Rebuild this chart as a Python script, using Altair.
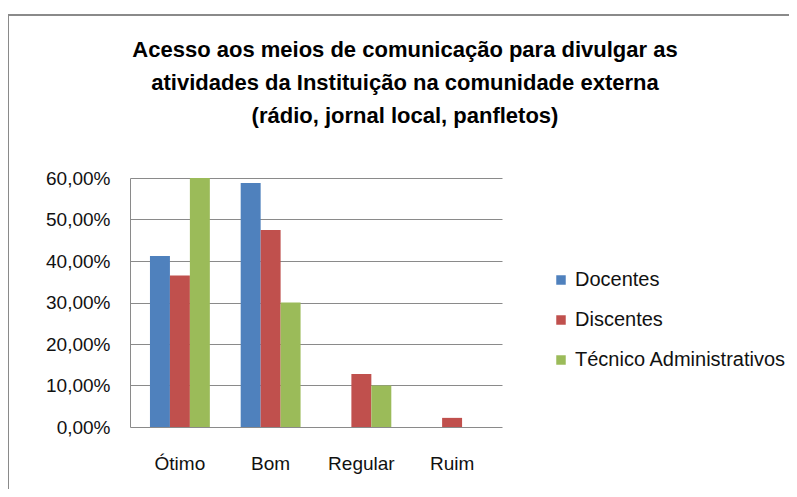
import altair as alt
import pandas as pd

categories = ["Ótimo", "Bom", "Regular", "Ruim"]
series = ["Docentes", "Discentes", "Técnico Administrativos"]
docentes = [0.412, 0.588, 0.0, 0.0]
discentes = [0.365, 0.475, 0.128, 0.022]
tecnicos = [0.600, 0.300, 0.100, 0.0]
colors = ["#4F81BD", "#C0504D", "#9BBB59"]
y_ticks = [0.0, 0.1, 0.2, 0.3, 0.4, 0.5, 0.6]
title_lines = [
    "Acesso aos meios de comunicação para divulgar as",
    "atividades da Instituição na comunidade externa",
    "(rádio, jornal local, panfletos)",
]

rows = []
for s, vals in zip(series, [docentes, discentes, tecnicos]):
    for c, v in zip(categories, vals):
        rows.append({"categoria": c, "grupo": s, "valor": v})
df = pd.DataFrame(rows)
title_df = pd.DataFrame({"t": [title_lines]})

FONT = "Liberation Sans"

bars = alt.Chart(df).mark_bar().encode(
    x=alt.X(
        "categoria:N",
        sort=categories,
        scale=alt.Scale(paddingInner=0.34, paddingOuter=0.22),
        axis=alt.Axis(title=None, labelAngle=0, labelFontSize=19, labelPadding=27,
                      ticks=False, domain=False, labelColor="#111", labelFont=FONT),
    ),
    xOffset=alt.XOffset("grupo:N", sort=series,
                        scale=alt.Scale(paddingInner=0, paddingOuter=0)),
    y=alt.Y(
        "valor:Q",
        scale=alt.Scale(domain=[0, 0.6]),
        axis=alt.Axis(title=None, values=y_ticks,
                      labelExpr="replace(format(datum.value, '.2%'), '.', ',')",
                      labelFontSize=19, labelPadding=20, ticks=False,
                      domain=True, domainColor="#8a8a8a", labelColor="#111",
                      labelFont=FONT, gridColor="#8a8a8a", gridWidth=1),
    ),
    color=alt.Color(
        "grupo:N",
        sort=series,
        scale=alt.Scale(domain=series, range=colors),
        legend=alt.Legend(title=None, orient="none", legendX=421, legendY=92,
                          symbolType="square", symbolSize=90, symbolStrokeWidth=0,
                          labelFontSize=20, labelFont=FONT, labelColor="#111",
                          rowPadding=20, labelOffset=4, labelLimit=400),
    ),
)

title = alt.Chart(title_df).mark_text(
    font=FONT, fontSize=22, fontWeight="bold", color="#000",
    lineHeight=33, align="center", baseline="top",
).encode(text="t", x=alt.value(275), y=alt.value(-138))

frame_left = alt.Chart(df).mark_rule(color="#8a8a8a", strokeWidth=2).encode(
    x=alt.value(-122), y=alt.value(-163), y2=alt.value(330)
)
frame_top = alt.Chart(df).mark_rule(color="#8a8a8a", strokeWidth=2).encode(
    x=alt.value(-122), x2=alt.value(700), y=alt.value(-163)
)

chart = alt.layer(bars, title, frame_left, frame_top).properties(
    width=372,
    height=249,
    autosize=alt.AutoSizeParams(type="none"),
    padding={"left": 122, "top": 170, "right": 287, "bottom": 62},
).configure_view(stroke=None)

chart.save("out.html", embed_options={"renderer": "svg", "actions": False})
